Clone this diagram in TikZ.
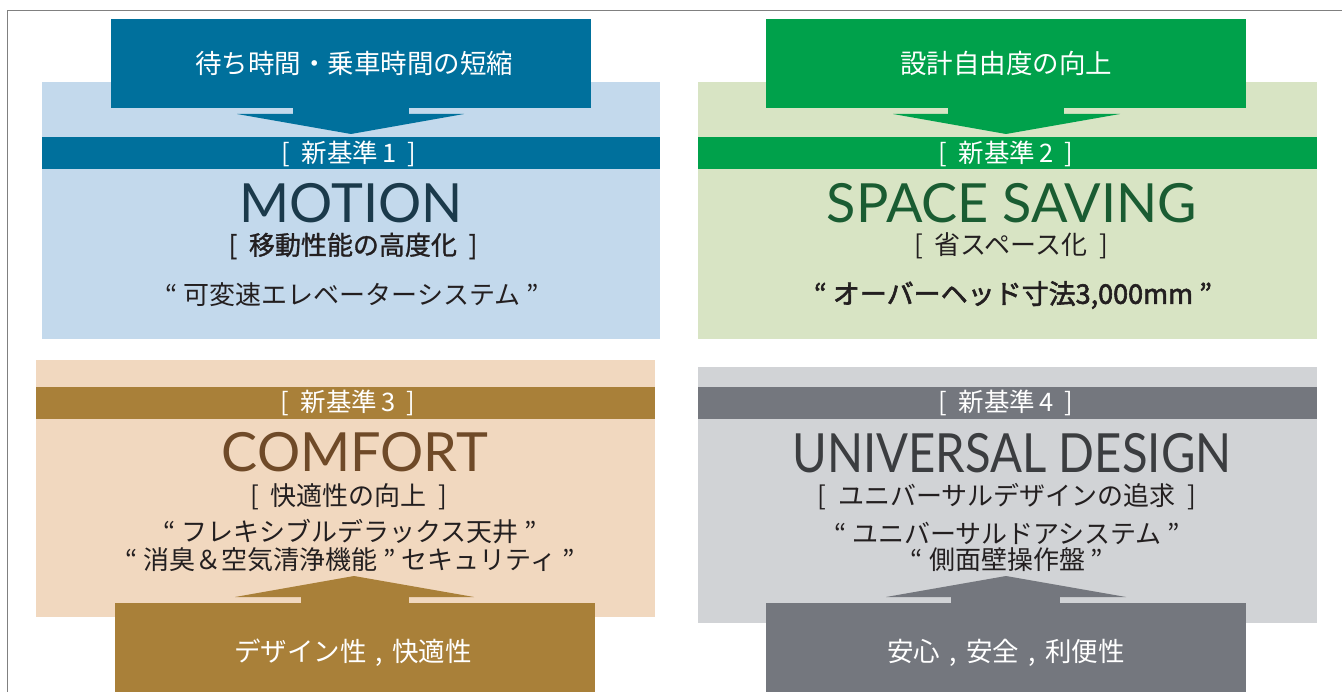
\documentclass[tikz,border=0pt]{standalone}
\usepackage{fontspec}
\setmainfont{Noto Sans CJK JP}
\newfontfamily\jpmed{Noto Sans CJK JP}[FakeBold=1.2]
\newfontfamily\jpsemi{Noto Sans CJK JP}[FakeBold=2.2]
\newfontfamily\ttlfont{Lato}
\definecolor{bD}{HTML}{00709C}
\definecolor{bL}{HTML}{C3D9EC}
\definecolor{bT}{HTML}{1B3A4B}
\definecolor{gD}{HTML}{00A14B}
\definecolor{gL}{HTML}{D8E4C4}
\definecolor{gT}{HTML}{1A5C32}
\definecolor{nD}{HTML}{A98039}
\definecolor{nL}{HTML}{F1D8BF}
\definecolor{nT}{HTML}{6F4A28}
\definecolor{yD}{HTML}{74777E}
\definecolor{yL}{HTML}{D1D3D6}
\definecolor{yT}{HTML}{3B3D40}
\definecolor{ink}{HTML}{231F20}
\definecolor{frame}{HTML}{808080}
\newcommand\gap{\hspace{0.45em}}
\newcommand\cg{\hspace{0.35em},\hspace{0.35em}}
\tikzset{
  rbox/.style={inner sep=0pt, outer sep=0pt, draw=none},
  head/.style={font=\fontsize{26.5}{30}\selectfont, text=white, inner sep=0pt},
  bandtxt/.style={font=\fontsize{25.5}{28}\selectfont, text=white, inner sep=0pt},
  ttl/.style={font=\ttlfont\fontsize{54}{60}\selectfont, inner sep=0pt},
  sub/.style={font=\fontsize{26}{28}\selectfont, text=ink, inner sep=0pt},
  quo/.style={font=\fontsize{26}{28}\selectfont, text=ink, inner sep=0pt},
}
\begin{document}
\begin{tikzpicture}[x=1pt,y=-1pt]
\useasboundingbox (0,0) rectangle (1342,692);
% frame
\draw[frame, line width=1.5pt] (7.5,692) -- (7.5,10.5) -- (1342,10.5);

% ===== Panel 1 =====
\node[rbox, fill=bL, minimum width=618pt, minimum height=257pt] (p1) at (351,210.5) {};
\node[rbox, fill=bD, minimum width=618pt, minimum height=32pt] (b1) at (351,153) {};
\node[rbox, fill=bD, minimum width=480pt, minimum height=89pt] (a1) at (351,63.5) {};
\fill[bD] (293,107.5) rectangle (409,114.5);
\fill[bD] (237,114) -- (464,114) -- (351,134) -- cycle;
\node[head] (a1t) at (354,63) {待ち時間・乗車時間の短縮};
\node[bandtxt] (b1t) at (349,154) {[\gap 新基準\,1\gap]};
\node[ttl, text=bT] (t1) at (351,203) {MOTION};
\node[sub, font=\jpmed\fontsize{26}{28}\selectfont] (s1) at (353,246) {[\gap 移動性能の高度化\gap]};
\node[quo] (q1) at (352,295) {“ 可変速エレベーターシステム ”};

% ===== Panel 2 =====
\node[rbox, fill=gL, minimum width=619pt, minimum height=257pt] (p2) at (1007.5,210.5) {};
\node[rbox, fill=gD, minimum width=619pt, minimum height=32pt] (b2) at (1007.5,153) {};
\node[rbox, fill=gD, minimum width=480pt, minimum height=89pt] (a2) at (1006,63.5) {};
\fill[gD] (948,107.5) rectangle (1064,114.5);
\fill[gD] (893,114) -- (1120,114) -- (1006,134) -- cycle;
\node[head] (a2t) at (1006,63) {設計自由度の向上};
\node[bandtxt] (b2t) at (1006,154) {[\gap 新基準\,2\gap]};
\node[ttl, text=gT] (t2) at (1012,203) {SPACE SAVING};
\node[sub] (s2) at (1011,246) {[\gap 省スペース化\gap]};
\node[quo, font=\jpsemi\fontsize{27}{30}\selectfont] (q2) at (1013,295) {“ オーバーヘッド寸法3,000mm ”};

% ===== Panel 3 =====
\node[rbox, fill=nL, minimum width=619pt, minimum height=257pt] (p3) at (345.5,488.5) {};
\node[rbox, fill=nD, minimum width=619pt, minimum height=32pt] (b3) at (345.5,403) {};
\node[rbox, fill=nD, minimum width=480pt, minimum height=90pt] (a3) at (355,648) {};
\fill[nD] (301,596.5) rectangle (409,603.5);
\fill[nD] (235,597) -- (474,597) -- (354,576) -- cycle;
\node[bandtxt] (b3t) at (348,403) {[\gap 新基準\,3\gap]};
\node[ttl, text=nT] (t3) at (355,452) {COMFORT};
\node[sub] (s3) at (349,497) {[\gap 快適性の向上\gap]};
\node[quo] (q3a) at (350,532) {“ フレキシブルデラックス天井 ”};
\node[quo] (q3b) at (350,560) {“ 消臭＆空気清浄機能 " セキュリティ ”};
\node[head] (a3t) at (353,653) {デザイン性\cg 快適性};

% ===== Panel 4 =====
\node[rbox, fill=yL, minimum width=619pt, minimum height=256pt] (p4) at (1007.5,495) {};
\node[rbox, fill=yD, minimum width=619pt, minimum height=32pt] (b4) at (1007.5,403) {};
\node[rbox, fill=yD, minimum width=480pt, minimum height=90pt] (a4) at (1006,648) {};
\fill[yD] (951,596.5) rectangle (1060,603.5);
\fill[yD] (886,597) -- (1126,597) -- (1006,576) -- cycle;
\node[bandtxt] (b4t) at (1006,403) {[\gap 新基準\,4\gap]};
\node[ttl, text=yT] (t4) at (1012,453) {\scalebox{0.875}[1]{UNIVERSAL DESIGN}};
\node[sub] (s4) at (1007,497) {[\gap ユニバーサルデザインの追求\gap]};
\node[quo] (q4a) at (1007,533) {“ ユニバーサルドアシステム ”};
\node[quo] (q4b) at (1007,560) {“ 側面壁操作盤 ”};
\node[head] (a4t) at (1006,653) {安心\cg 安全\cg 利便性};
\end{tikzpicture}
\end{document}
